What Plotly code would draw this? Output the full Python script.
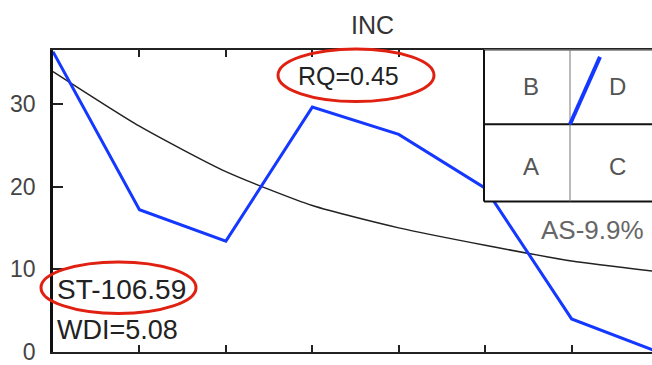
import plotly.graph_objects as go

x_pos = [0, 1, 2, 3, 4, 5, 6, 7]
inc_values = [36.3, 17.2, 13.4, 29.6, 26.3, 19.8, 4.0, 0.0]
trend_values = [33.9, 27.3, 21.8, 17.7, 15.0, 12.9, 11.0, 9.7]
y_ticks = [0, 10, 20, 30]
title_text = "INC"
quad_labels = ["B", "D", "A", "C"]
rq_text = "RQ=0.45"
st_text = "ST-106.59"
wdi_text = "WDI=5.08"
as_text = "AS-9.9%"

W, H = 652, 365
L, T, B = 53, 50, 10
PW = W - L
PH = H - T - B

def px(xp):
    return (xp - L) / PW

def py(yp):
    return (H - B - yp) / PH

FAM = "Liberation Sans, Arial, sans-serif"

fig = go.Figure()
fig.add_trace(go.Scatter(x=x_pos, y=trend_values, mode="lines",
                         line=dict(color="#222222", width=1.5, shape="spline", smoothing=0.6),
                         hoverinfo="skip", showlegend=False))
fig.add_trace(go.Scatter(x=x_pos, y=inc_values, mode="lines",
                         line=dict(color="#1438ff", width=3),
                         hoverinfo="skip", showlegend=False))

fig.update_layout(
    width=W, height=H,
    margin=dict(l=L, r=0, t=T, b=B),
    paper_bgcolor="white", plot_bgcolor="white",
    font=dict(family=FAM, size=24, color="#333333"),
    xaxis=dict(range=[0, 6.93], showgrid=False, zeroline=False, showticklabels=False,
               tickvals=x_pos, ticks="inside", ticklen=7, tickcolor="#222", tickwidth=2,
               showline=True, linecolor="#222", linewidth=2, mirror="ticks"),
    yaxis=dict(range=[0, 36.5], showgrid=False, zeroline=False,
               tickvals=y_ticks, ticks="inside", ticklen=10, tickcolor="#222", tickwidth=2,
               showline=True, linecolor="#111", linewidth=2.5, ticklabelstandoff=10,
               ticklabeloverflow="allow",
               tickfont=dict(family=FAM, size=23, color="#444")),
)

shapes = []
shapes.append(dict(type="rect", xref="paper", yref="paper", x0=px(484), x1=1.02, y0=py(203), y1=py(50),
                   fillcolor="white", line=dict(width=0), layer="above"))
shapes.append(dict(type="line", xref="paper", yref="paper", x0=px(484), x1=1.02, y0=py(50), y1=py(50),
                   line=dict(color="#777", width=1.5), layer="above"))
shapes.append(dict(type="line", xref="paper", yref="paper", x0=px(484), x1=px(484), y0=py(203), y1=py(50),
                   line=dict(color="#111", width=2), layer="above"))
shapes.append(dict(type="line", xref="paper", yref="paper", x0=px(484), x1=1.02, y0=py(203), y1=py(203),
                   line=dict(color="#111", width=2), layer="above"))
shapes.append(dict(type="line", xref="paper", yref="paper", x0=px(484), x1=1.02, y0=py(125), y1=py(125),
                   line=dict(color="#111", width=2), layer="above"))
shapes.append(dict(type="line", xref="paper", yref="paper", x0=px(570), x1=px(570), y0=py(203), y1=py(50),
                   line=dict(color="#777", width=1), layer="above"))
shapes.append(dict(type="line", xref="paper", yref="paper", x0=px(570), x1=px(600), y0=py(125), y1=py(57),
                   line=dict(color="#1438ff", width=4), layer="above"))
shapes.append(dict(type="circle", xref="paper", yref="paper", x0=px(278), x1=px(434), y0=py(102), y1=py(49),
                   line=dict(color="#e02010", width=3), layer="above"))
shapes.append(dict(type="circle", xref="paper", yref="paper", x0=px(41), x1=px(196), y0=py(316), y1=py(264),
                   line=dict(color="#e02010", width=3), layer="above"))
fig.update_layout(shapes=shapes)

ann = []
ann.append(dict(text=title_text, xref="paper", yref="paper", x=px(372), y=py(25),
                showarrow=False, xanchor="center", yanchor="middle", font=dict(size=25, color="#333")))
qpos = [(531, 87), (617, 87), (531, 168), (617, 168)]
for lab, (qx, qy) in zip(quad_labels, qpos):
    ann.append(dict(text=lab, xref="paper", yref="paper", x=px(qx), y=py(qy), showarrow=False,
                    xanchor="center", yanchor="middle", font=dict(size=24, color="#555")))
ann.append(dict(text=rq_text, xref="paper", yref="paper", x=px(348), y=py(76), showarrow=False,
                xanchor="center", yanchor="middle", font=dict(size=25, color="#222")))
ann.append(dict(text=st_text, xref="paper", yref="paper", x=px(55), y=py(292), showarrow=False,
                xanchor="left", yanchor="middle", font=dict(size=28, color="#222")))
ann.append(dict(text=wdi_text, xref="paper", yref="paper", x=px(55), y=py(333), showarrow=False,
                xanchor="left", yanchor="middle", font=dict(size=27, color="#222")))
ann.append(dict(text=as_text, xref="paper", yref="paper", x=px(592), y=py(232), showarrow=False,
                xanchor="center", yanchor="middle", font=dict(size=26, color="#666")))
fig.update_layout(annotations=ann)

fig.write_html("out.html", config={"displayModeBar": False},
               post_script="document.body.style.margin='0px';document.body.style.overflow='hidden';")
